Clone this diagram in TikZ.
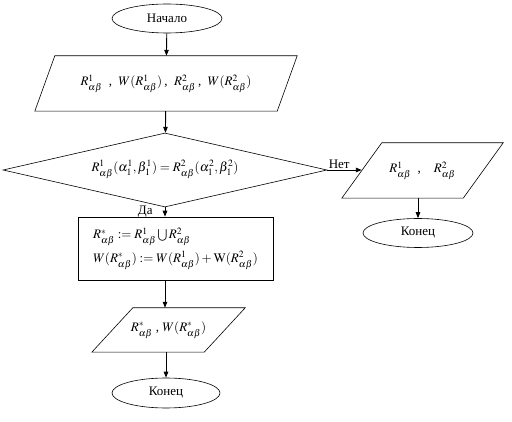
\documentclass[tikz,border=0pt]{standalone}
\usepackage{mathptmx}
\usepackage{fontspec}
\setmainfont{Liberation Serif}
\usetikzlibrary{shapes.geometric,arrows.meta}
\begin{document}
\begin{tikzpicture}[x=1pt,y=-1pt,line cap=butt,line join=miter,>={Triangle[length=6pt,width=4.5pt]},
	every node/.style={font=\fontsize{13}{15}\selectfont},
	term/.style={draw,ellipse,line width=.6pt,minimum width=110pt,minimum height=29pt,inner sep=0pt},
	io/.style={rectangle,inner sep=0pt},
	proc/.style={draw,rectangle,line width=.6pt,minimum width=195pt,minimum height=63pt,inner sep=0pt,align=left},
	cond/.style={draw,diamond,line width=.6pt,aspect=4.4,minimum width=324pt,minimum height=74pt,inner sep=0pt},
	flow/.style={->,line width=.9pt}]
			\useasboundingbox (0,0) rectangle (512,422);
			\node[term] (start) at (167,18.5) {Начало};
			\node[io,minimum width=242pt,minimum height=55pt] (inp) at (166,83.5)
			{\raisebox{6pt}{$R^1_{\alpha\beta}$\ \ ,\ \ $W(R^1_{\alpha\beta})$\,,\ \ $R^2_{\alpha\beta}$\,,\ \ $W(R^2_{\alpha\beta})$}};
			\node[cond] (eq) at (165,170)
			{\raisebox{8pt}{$R^1_{\alpha\beta}(\alpha^1_1,\beta^1_1)=R^2_{\alpha\beta}(\alpha^2_1,\beta^2_1)$}};
			\node[io,minimum width=121pt,minimum height=55pt] (outno) at (422.5,170.5)
			{$R^1_{\alpha\beta}$\ \ ,\quad $R^2_{\alpha\beta}$};
			\node[term] (endno) at (418,233) {Конец};
			\node[proc] (join) at (175.5,248.5)
			{$R^*_{\alpha\beta}:=R^1_{\alpha\beta}\bigcup R^2_{\alpha\beta}$\\[5pt]
			$W(R^*_{\alpha\beta}):=W(R^1_{\alpha\beta})+\mathrm{W}(R^2_{\alpha\beta})$};
			\node[io,minimum width=112pt,minimum height=44pt] (outyes) at (168.5,330)
			{$R^*_{\alpha\beta}$\ ,\ $W(R^*_{\alpha\beta})$};
			\node[term,minimum width=108pt,minimum height=30pt] (endyes) at (166,393) {Конец};
			\foreach \n/\s in {inp/20,outno/40,outyes/41}{
				\draw[line width=.6pt] ([xshift=\s/2]\n.north west) -- ([xshift=\s/2]\n.north east)
				-- ([xshift=-\s/2]\n.south east) -- ([xshift=-\s/2]\n.south west) -- cycle;
			}
			\draw[flow] (start) -- (inp);
			\draw[flow] (inp) -- (eq);
			\draw[flow] (eq.south) -- (eq.south |- join.north) node[midway,left=12pt,inner sep=0pt]{Да};
			\draw[flow] (eq.east) -- (eq.east -| outno.west) node[pos=0,above right,inner sep=1pt]{Нет};
			\draw[flow] (outno.south -| endno.north) -- (endno.north);
			\draw[flow] (eq.south |- join.south) -- (eq.south |- outyes.north);
			\draw[flow] (outyes.south -| endyes.north) -- (endyes.north);
		\end{tikzpicture}
\end{document}
